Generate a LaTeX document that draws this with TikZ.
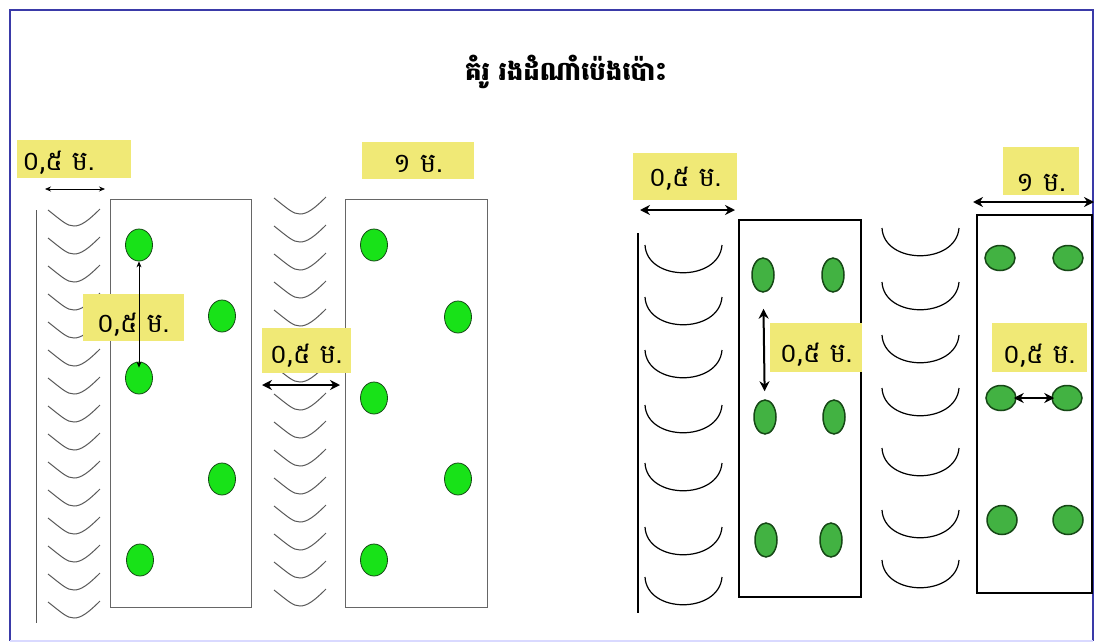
\documentclass[tikz,border=0pt]{standalone}
\usepackage{fontspec}
\newfontfamily\khmerfont[Script=Khmer]{Battambang}
\usetikzlibrary{
  positioning,
  shapes.geometric,
  arrows.meta
}

\definecolor{tagyellow}{RGB}{240,233,118}
\definecolor{sproutgreen}{RGB}{24,226,24}
\definecolor{leafgreen}{RGB}{66,178,66}
\definecolor{stemgreen}{RGB}{22,72,22}
\definecolor{frameblue}{RGB}{58,58,168}

\newcommand{\lowtext}[2][13pt]{\raisebox{-#1}[0pt][0pt]{#2}}

\begin{document}
\begin{tikzpicture}[
  x=1pt, y=-1pt,
  font=\khmerfont\fontsize{27}{30}\selectfont,
  tag/.style={fill=tagyellow, inner sep=2pt, anchor=center},
  sprout/.style={ellipse, draw=stemgreen, line width=0.8pt, fill=sproutgreen, minimum width=27pt, minimum height=32pt, inner sep=0pt},
  plant/.style={ellipse, draw=stemgreen, line width=1.5pt, fill=leafgreen, minimum width=22pt, minimum height=34pt, inner sep=0pt},
  flatplant/.style={plant, minimum width=30pt, minimum height=25pt},
  bed/.style={draw=gray!80!black, line width=1pt},
  blackbed/.style={draw=black, line width=1.8pt},
  thinarrow/.style={{Stealth[length=6pt,width=5pt]}-{Stealth[length=6pt,width=5pt]}, line width=0.7pt},
  boldarrow/.style={{Stealth[length=10pt,width=10pt]}-{Stealth[length=10pt,width=10pt]}, line width=2pt},
  ridge/.pic={\draw[gray!70!black, line width=1pt] (0,0) .. controls (14,11) and (19,16) .. (26,16) .. controls (33,16) and (40,11) .. (52,-1);},
  hill/.pic={\draw[black, line width=1.2pt] (0,0) .. controls (2,37) and (74,37) .. (77,0);}
]
\useasboundingbox (0,0) rectangle (1096,643);

% Frame
\draw[frameblue, line width=2.5pt] (10,641) -- (10,10) -- (1093,10) -- (1093,641);
\draw[blue!15, line width=2pt] (10,641) -- (1093,641);

% Title
\node (title) at (566,72) {\fontsize{26}{30}\bfseries\selectfont គំរូ រងដំណាំប៉េងប៉ោះ};

% Left plan: furrows and beds
\draw[gray!70!black, line width=1pt] (36,210) -- (36,623);
\foreach \k in {0,...,14} {
  \pic at (48,{210+28*\k}) {ridge};
  \pic at (274,{198+28*\k}) {ridge};
}
\draw[bed] (110,199) rectangle (251,607);
\draw[bed] (345,199) rectangle (487,607);

% Left plan: plants
\node[sprout] (a1) at (139,245) {};
\node[sprout] (a2) at (139,378) {};
\node[sprout] (a3) at (140,560) {};
\node[sprout] (a4) at (222,316) {};
\node[sprout] (a5) at (222,479) {};
\node[sprout] (b1) at (374,245) {};
\node[sprout] (b2) at (374,398) {};
\node[sprout] (b3) at (374,560) {};
\node[sprout] (b4) at (458,317) {};
\node[sprout] (b5) at (458,479) {};

% Right plan: furrows and beds
\draw[black, line width=1.2pt] (638,233) -- (638,613);
\foreach \t in {245,297,350,405,463,527,577} {
  \pic at (645,\t) {hill};
}
\foreach \t in {228,282,335,388,448,510,560} {
  \pic at (882,\t) {hill};
}
\draw[blackbed] (739,220) rectangle (861,597);
\draw[blackbed] (977,215) rectangle (1092,593);

% Right plan: plants
\node[plant] (c1) at (763,275) {};
\node[plant] (c2) at (833,275) {};
\node[plant] (c3) at (765,417) {};
\node[plant] (c4) at (834,417) {};
\node[plant] (c5) at (766,540) {};
\node[plant] (c6) at (831,540) {};
\node[flatplant] (d1) at (1000,258) {};
\node[flatplant] (d2) at (1068,258) {};
\node[flatplant] (d3) at (1001,398) {};
\node[flatplant] (d4) at (1067,398) {};
\node[flatplant, minimum height=29pt] (d5) at (1002,520) {};
\node[flatplant, minimum height=29pt] (d6) at (1068,520) {};

% Labels
\node[tag, minimum width=114pt, minimum height=38pt, text width=104pt, align=left] (tagA) at (74,159) {\lowtext[11pt]{០,៥ ម.}};
\node[tag, minimum width=101pt, minimum height=47pt] (tagB) at (133,317) {\lowtext[15pt]{០,៥ ម.}};
\node[tag, minimum width=89pt, minimum height=45pt] (tagC) at (306,350) {\lowtext{០,៥ ម.}};
\node[tag, minimum width=112pt, minimum height=37pt] (tagD) at (418,160) {\lowtext[12pt]{១ ម.}};
\node[tag, minimum width=104pt, minimum height=47pt] (tagE) at (685,176) {\lowtext[10pt]{០,៥ ម.}};
\node[tag, minimum width=92pt, minimum height=49pt] (tagF) at (816,347) {\lowtext[15pt]{០,៥ ម.}};
\node[tag, minimum width=76pt, minimum height=48pt] (tagG) at (1041,171) {\lowtext[20pt]{១ ម.}};
\node[tag, minimum width=95pt, minimum height=49pt] (tagH) at (1039,347) {\lowtext[16pt]{០,៥ ម.}};

% Arrow ends
\coordinate (wA1) at (45,189);
\coordinate (wA2) at (105,189);
\coordinate (wC1) at (262,385);
\coordinate (wC2) at (340,385);
\coordinate (wE1) at (640,210);
\coordinate (wE2) at (735,210);
\coordinate (wG1) at (973,202);
\coordinate (wG2) at (1094,202);

% Arrows
\draw[thinarrow] (wA1) -- (wA2);
\draw[thinarrow, shorten >=-6pt] (a1) -- (a2);
\draw[boldarrow] (wC1) -- (wC2);
\draw[boldarrow] (wE1) -- (wE2);
\draw[boldarrow, shorten <=16pt, shorten >=8pt] (c1) -- (c3);
\draw[boldarrow] (wG1) -- (wG2);
\draw[boldarrow, line width=1.5pt, shorten <=-3pt, shorten >=-3pt] (d3) -- (d4);

\end{tikzpicture}
\end{document}
